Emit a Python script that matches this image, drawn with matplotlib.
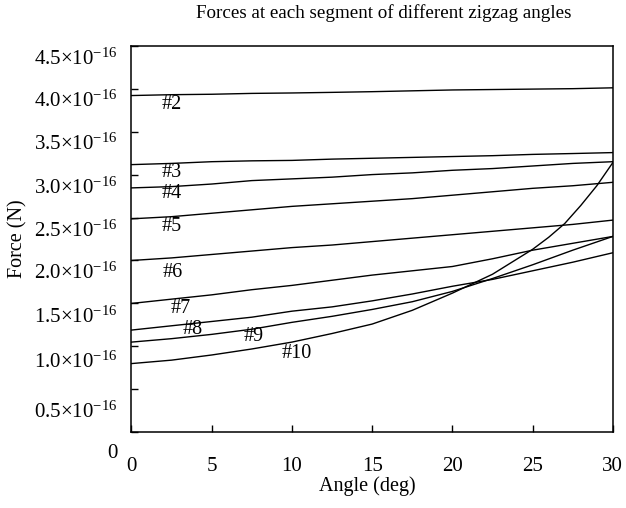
import numpy as np
import matplotlib
matplotlib.use("Agg")
import matplotlib.pyplot as plt
from matplotlib.transforms import ScaledTranslation

plt.rcParams['font.family'] = ['Liberation Serif', 'DejaVu Serif']
plt.rcParams['mathtext.fontset'] = 'custom'
plt.rcParams['mathtext.rm'] = 'Liberation Serif'
plt.rcParams['mathtext.it'] = 'Liberation Serif:italic'
plt.rcParams['mathtext.bf'] = 'Liberation Serif:bold'

# angle (deg) and force per segment, in units of 1e-16 N
angle = [0, 2.5, 5, 7.5, 10, 12.5, 15, 17.5, 20, 22.5, 25, 27.5, 30]
seg2 = [3.92, 3.93, 3.935, 3.945, 3.95, 3.957, 3.965, 3.975, 3.985, 3.99, 3.995, 4.0, 4.01]
seg3 = [3.116, 3.13, 3.15, 3.16, 3.165, 3.18, 3.19, 3.20, 3.21, 3.22, 3.235, 3.245, 3.256]
seg4 = [2.845, 2.86, 2.89, 2.93, 2.95, 2.97, 3.0, 3.02, 3.05, 3.07, 3.10, 3.13, 3.15]
seg5 = [2.485, 2.51, 2.55, 2.59, 2.63, 2.66, 2.69, 2.72, 2.76, 2.80, 2.84, 2.87, 2.91]
seg6 = [2.0, 2.03, 2.07, 2.11, 2.15, 2.18, 2.22, 2.26, 2.30, 2.34, 2.38, 2.42, 2.47]
seg7 = [1.50, 1.55, 1.60, 1.66, 1.71, 1.77, 1.83, 1.88, 1.93, 2.02, 2.12, 2.20, 2.28]
seg8 = [1.19, 1.24, 1.29, 1.34, 1.41, 1.46, 1.53, 1.61, 1.70, 1.78, 1.88, 1.98, 2.09]
seg9 = [1.05, 1.09, 1.14, 1.20, 1.28, 1.35, 1.43, 1.52, 1.64, 1.79, 1.95, 2.12, 2.28]
angle10 = [0, 2.5, 5, 7.5, 10, 12.5, 15, 17.5, 20, 22.5, 25, 26, 27, 28, 29, 30]
seg10 = [0.80, 0.84, 0.90, 0.97, 1.05, 1.15, 1.26, 1.42, 1.62, 1.84, 2.13, 2.27, 2.43, 2.64, 2.87, 3.14]

seg_names = ['#2', '#3', '#4', '#5', '#6', '#7', '#8', '#9', '#10']
yticks = [0, 0.5, 1.0, 1.5, 2.0, 2.5, 3.0, 3.5, 4.0, 4.5]
ytick_labels = ['0'] + ['%.1f×10$^{-16}$' % v for v in yticks[1:]]
xticks = [0, 5, 10, 15, 20, 25, 30]

fig = plt.figure(figsize=(6.26, 5.08), dpi=100)
ax = fig.add_axes([0.210, 0.149, 0.769, 0.761])

series = [seg2, seg3, seg4, seg5, seg6, seg7, seg8, seg9]
for s in series:
    ax.plot(angle, s, color='black', lw=1.0)
ax.plot(angle10, seg10, color='black', lw=1.0)

# segment labels, sitting just below each curve
label_pos = [(1.9, 3.81), (1.9, 3.03), (1.9, 2.78), (1.9, 2.40), (1.96, 1.86),
             (2.46, 1.44), (3.21, 1.20), (7.01, 1.11), (9.38, 0.92)]
for name, (lx, ly) in zip(seg_names, label_pos):
    ax.text(lx, ly, name, fontsize=14.5, ha='left', va='center')

ax.set_xlim(0, 30)
ax.set_ylim(0, 4.5)
ax.set_xticks(xticks)
ax.set_yticks(yticks)
ax.set_yticklabels(ytick_labels)
ax.tick_params(axis='both', direction='in', length=5, width=1, labelsize=15,
               top=False, right=False)
ax.tick_params(axis='x', pad=18)
ax.tick_params(axis='y', pad=10)
for sp in ax.spines.values():
    sp.set_linewidth(1.1)

# y tick labels sit a little below their ticks in the original (pixels)
label_drop = [19, 20, 13, 11.5, 10, 11, 11, 10.5, 10, 11]
for lab, d in zip(ax.get_yticklabels(), label_drop):
    lab.set_transform(lab.get_transform() +
                      ScaledTranslation(0, -d / 100, fig.dpi_scale_trans))

ax.set_xlabel('Angle (deg)', fontsize=14.5)
ax.xaxis.set_label_coords(0.489, -0.113)
ax.set_ylabel('Force (N)', fontsize=14.5)
ax.yaxis.set_label_coords(-0.216, 0.5)
fig.text(0.613, 0.975, 'Forces at each segment of different zigzag angles',
         fontsize=13.7, ha='center', va='center')

fig.savefig('out.png', dpi=100)
